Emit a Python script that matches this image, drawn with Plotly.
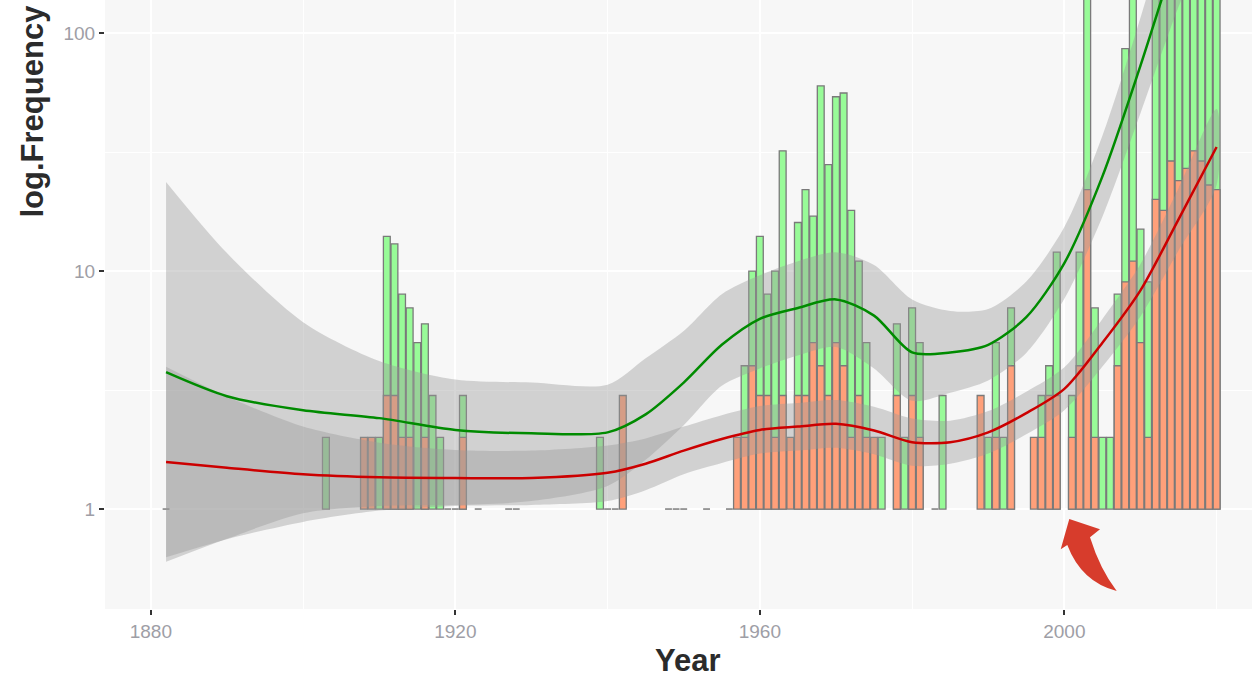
import plotly.graph_objects as go

# ---------------- data ----------------
green_years = [1903, 1910, 1911, 1912, 1913, 1914, 1915, 1916, 1917, 1918, 1921, 1939,
               1958, 1959, 1960, 1961, 1962, 1963, 1965, 1966, 1967, 1968, 1969, 1970,
               1971, 1972, 1973, 1974, 1976, 1978, 1979, 1980, 1981, 1984,
               1990, 1991, 1992, 1993, 1997, 1998, 1999, 2001, 2002, 2003, 2004, 2005,
               2006, 2007, 2008, 2009, 2010, 2011, 2012, 2013, 2014, 2015, 2016, 2017,
               2018, 2019, 2020]
green_vals = [2, 2, 14, 13, 8, 7, 5, 6, 3, 2, 3, 2,
              4, 10, 14, 8, 10, 32, 16, 22, 17, 60, 28, 54,
              56, 18, 11, 5, 2, 6, 2, 7, 5, 3,
              2, 5, 2, 7, 3, 4, 12, 3, 12, 150, 7, 2,
              2, 8, 86, 150, 15, 9, 160, 170, 180, 200, 200, 220,
              240, 250, 230]

orange_years = [1908, 1909, 1911, 1912, 1913, 1914, 1916, 1921, 1942,
                1957, 1958, 1959, 1960, 1961, 1962, 1963, 1964, 1965, 1966, 1967, 1968,
                1969, 1970, 1971, 1972, 1973, 1974, 1975, 1978, 1980, 1981,
                1989, 1991, 1993, 1996, 1997, 1998, 1999, 2001, 2002, 2003, 2004,
                2007, 2008, 2009, 2010, 2011, 2012, 2013, 2014, 2015, 2016, 2017,
                2018, 2019, 2020]
orange_vals = [2, 2, 3, 3, 2, 2, 2, 2, 3,
               2, 2, 4, 3, 3, 2, 3, 2, 3, 3, 5, 4,
               3, 5, 4, 2, 3, 2, 2, 3, 3, 2,
               3, 2, 4, 2, 2, 3, 3, 2, 4, 22, 2,
               4, 9, 11, 5, 2, 20, 18, 29, 24, 27, 32,
               29, 23, 22]

# years whose count is exactly 1 (zero-height bars on the log scale)
one_years = [1882, 1919, 1920, 1923, 1927, 1928, 1940, 1941, 1948, 1949, 1950,
             1953, 1956, 1983]

# smoothed trends with confidence bands
smooth_years = [1882, 1890, 1900, 1910, 1920, 1930, 1940, 1945, 1950, 1955, 1960,
                1965, 1970, 1975, 1980, 1985, 1990, 1995, 2000, 2005, 2010, 2015, 2020]
green_fit = [3.76, 2.98, 2.60, 2.41, 2.15, 2.08, 2.10, 2.50, 3.40, 4.90, 6.30,
             7.00, 7.60, 6.50, 4.55, 4.55, 4.90, 6.40, 10.8, 25.0, 73.0, 230, 650]
green_hi = [23.7, 11.9, 6.1, 4.19, 3.50, 3.40, 3.33, 4.30, 5.60, 8.00, 9.60,
            11.0, 12.0, 10.6, 7.60, 6.80, 6.92, 9.04, 15.3, 37.0, 116, 409, 1358]
green_lo = [0.60, 0.75, 0.96, 1.03, 1.04, 1.08, 1.25, 1.61, 2.25, 3.30, 3.90,
            4.42, 4.80, 3.90, 2.85, 3.08, 3.47, 4.53, 7.65, 16.9, 46.0, 129, 311]
red_fit = [1.576, 1.49, 1.40, 1.36, 1.35, 1.35, 1.42, 1.55, 1.76, 1.97, 2.15,
           2.22, 2.28, 2.14, 1.91, 1.91, 2.10, 2.53, 3.20, 5.00, 8.30, 16.5, 33.2]
red_hi = [3.96, 2.97, 2.22, 1.90, 1.77, 1.76, 1.85, 1.98, 2.22, 2.48, 2.71,
          2.79, 2.87, 2.69, 2.40, 2.35, 2.58, 3.11, 3.94, 6.29, 10.7, 22.3, 48.0]
red_lo = [0.627, 0.747, 0.883, 0.985, 1.03, 1.04, 1.08, 1.20, 1.40, 1.56, 1.71,
          1.76, 1.81, 1.70, 1.52, 1.55, 1.71, 2.06, 2.60, 3.97, 6.45, 12.2, 23.0]

x_ticks = [1880, 1920, 1960, 2000]
x_minor = [1900, 1940, 1980, 2020]
y_ticks = [1, 10, 100]
y_tick_text = ["1", "10", "100"]
y_minor = [10 ** -0.5, 10 ** 0.5, 10 ** 1.5]

# ---------------- styling ----------------
W, H = 1252, 679
ML, MR, MT, MB = 105, 0, 0, 70
FONT = "Liberation Sans, Arial, sans-serif"
GREEN_FILL = "#98FB98"
ORANGE_FILL = "#FFA07A"
OUTLINE = "#7A7A7A"
BAND = "rgba(153,153,153,0.4)"
BAR_W = 0.9

fig = go.Figure()

fig.add_trace(go.Bar(x=green_years, y=[v - 1 for v in green_vals], base=1, width=BAR_W,
                     marker=dict(color=GREEN_FILL, line=dict(color=OUTLINE, width=1.3)),
                     showlegend=False, hoverinfo="skip"))
fig.add_trace(go.Bar(x=orange_years, y=[v - 1 for v in orange_vals], base=1, width=BAR_W,
                     marker=dict(color=ORANGE_FILL, line=dict(color=OUTLINE, width=1.3)),
                     showlegend=False, hoverinfo="skip"))

# zero-height bars (count == 1) appear as flat outline segments
ones_x, ones_y = [], []
for yr in one_years:
    ones_x += [yr - BAR_W / 2, yr + BAR_W / 2, None]
    ones_y += [1, 1, None]
fig.add_trace(go.Scatter(x=ones_x, y=ones_y, mode="lines",
                         line=dict(color=OUTLINE, width=1.5),
                         showlegend=False, hoverinfo="skip"))

for hi, lo in ((green_hi, green_lo), (red_hi, red_lo)):
    fig.add_trace(go.Scatter(x=smooth_years + smooth_years[::-1], y=hi + lo[::-1],
                             mode="lines", fill="toself", fillcolor=BAND,
                             line=dict(width=0, shape="spline", smoothing=0.8),
                             showlegend=False, hoverinfo="skip"))

fig.add_trace(go.Scatter(x=smooth_years, y=green_fit, mode="lines",
                         line=dict(color="#008B00", width=2.5, shape="spline", smoothing=0.8),
                         showlegend=False, hoverinfo="skip"))
fig.add_trace(go.Scatter(x=smooth_years, y=red_fit, mode="lines",
                         line=dict(color="#CC0000", width=2.5, shape="spline", smoothing=0.8),
                         showlegend=False, hoverinfo="skip"))

TICK_FONT = dict(family=FONT, size=19, color="#9E9EA6")

fig.update_layout(
    width=W, height=H,
    margin=dict(l=ML, r=MR, t=MT, b=MB, pad=0),
    paper_bgcolor="white",
    plot_bgcolor="#F7F7F7",
    barmode="overlay",
    showlegend=False,
    xaxis=dict(range=[1873.98, 2024.65], tickmode="array", tickvals=x_ticks,
               ticktext=[str(v) for v in x_ticks],
               ticks="outside", ticklen=5, tickwidth=1.5, tickcolor="#333333",
               tickfont=TICK_FONT, showgrid=True, gridcolor="white", gridwidth=2,
               minor=dict(tickmode="array", tickvals=x_minor, showgrid=True,
                          gridcolor="white", gridwidth=1.1, ticks=""),
               zeroline=False, showline=False, automargin=False, fixedrange=True),
    yaxis=dict(type="log", range=[-0.42, 2.139], tickmode="array", tickvals=y_ticks,
               ticktext=y_tick_text,
               ticks="outside", ticklen=5, tickwidth=1.5, tickcolor="#333333",
               tickfont=TICK_FONT, showgrid=True, gridcolor="white", gridwidth=2,
               minor=dict(tickmode="array", tickvals=y_minor, showgrid=True,
                          gridcolor="white", gridwidth=1.1, ticks=""),
               zeroline=False, showline=False, automargin=False, fixedrange=True),
)

PW = W - ML - MR
PH = H - MT - MB


def px(xp):
    return (xp - ML) / PW


def py(yp):
    return (H - MB - yp) / PH


# axis titles
fig.add_annotation(text="<b>Year</b>", x=px(688), y=py(661), xref="paper", yref="paper",
                   showarrow=False, xanchor="center", yanchor="middle",
                   font=dict(family=FONT, size=31, color="#2B2B2B"))
fig.add_annotation(text="<b>log.Frequency</b>", x=px(32), y=py(111.5), xref="paper",
                   yref="paper", showarrow=False, textangle=-90, xanchor="center",
                   yanchor="middle", font=dict(family=FONT, size=31, color="#2B2B2B"))

# curved red arrow (decoration)
tip = (1069.3, 519)
rbarb = (1100, 529.3)
rin = (1090, 537.3)
rctl = (1100.0, 569.3)
tail = (1116.7, 591)
lctl = (1081.4, 582)
lin = (1067.3, 545)
lbarb = (1060.7, 549.3)


def P(pt):
    return f"{px(pt[0]):.5f},{py(pt[1]):.5f}"


path = (f"M {P(tip)} L {P(rbarb)} L {P(rin)} Q {P(rctl)} {P(tail)} "
        f"Q {P(lctl)} {P(lin)} L {P(lbarb)} Z")
fig.add_shape(type="path", path=path, xref="paper", yref="paper",
              fillcolor="#D73C2C", line=dict(width=0), layer="above")

# the page's default 8px body margin would shift the figure; remove it
fig.write_html("out.html",
               config={"displayModeBar": False},
               post_script="document.body.style.margin='0px';document.body.style.overflow='hidden';")
